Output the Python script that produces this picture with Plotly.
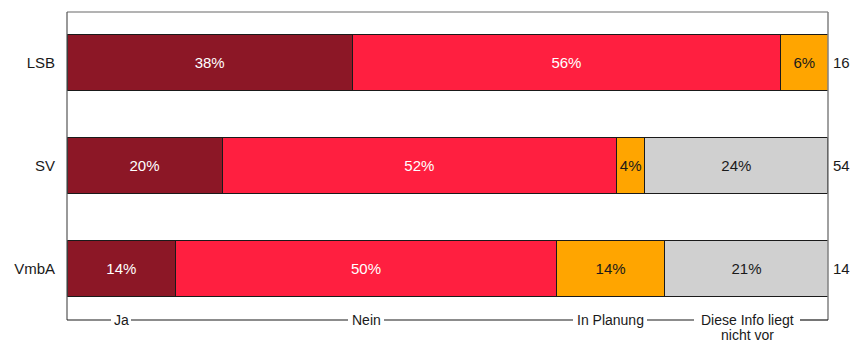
import plotly.graph_objects as go

categories = ["LSB", "SV", "VmbA"]
n_labels = ["16", "54", "14"]
series_names = ["Ja", "Nein", "In Planung", "Diese Info liegt nicht vor"]
ja = [37.5, 20.37, 14.29]
nein = [56.25, 51.85, 50.0]
planung = [6.25, 3.70, 14.29]
keine_info = [0.0, 24.07, 21.43]

colors = ["#8C1726", "#FF1F40", "#FFA500", "#D0D0D0"]
text_colors = ["white", "white", "#1a1a1a", "#1a1a1a"]
FONT = "Liberation Sans"
FS = 15
LFS = 14

L, R = 67, 828  # plot area pixel edges
def px2paper(p):
    return (p - L) / (R - L)

fig = go.Figure()
for name, vals, col, tcol in zip(series_names, [ja, nein, planung, keine_info], colors, text_colors):
    fig.add_trace(go.Bar(
        y=categories, x=vals, name=name, orientation="h",
        marker=dict(color=col, line=dict(color="#1a1a1a", width=1)),
        text=[f"{v:.0f}%" if v > 0 else "" for v in vals],
        textposition="inside", insidetextanchor="middle",
        textfont=dict(color=tcol, size=FS, family=FONT),
        hoverinfo="skip",
    ))

# n labels to the right of bars
for cat, nl in zip(categories, n_labels):
    fig.add_annotation(x=1, xref="paper", y=cat, yref="y", text=nl,
                       showarrow=False, xanchor="left", xshift=3,
                       font=dict(size=FS, color="#1a1a1a", family=FONT))

# frame
fig.add_shape(type="line", xref="paper", yref="paper", x0=0, x1=1, y0=0.997, y1=0.997,
              line=dict(color="#9a9a9a", width=1.5))
fig.add_shape(type="line", xref="paper", yref="paper", x0=0, x1=0, y0=0, y1=0.997,
              line=dict(color="#555555", width=1.2))
fig.add_shape(type="line", xref="paper", yref="paper", x0=1, x1=1, y0=0, y1=0.997,
              line=dict(color="#808080", width=1.5))

# legend labels along the bottom line, line drawn in segments between labels
legend_pos = [121, 366, 610, 747]
legend_gaps = [(111, 131), (348, 384), (573, 647), (694, 800)]
legend_text = ["Ja", "Nein", "In Planung", "Diese Info liegt"]
edges = [L] + [g for gap in legend_gaps for g in gap] + [R]
for a, b in zip(edges[0::2], edges[1::2]):
    fig.add_shape(type="line", xref="paper", yref="paper", x0=px2paper(a), x1=px2paper(b),
                  y0=0, y1=0, line=dict(color="#1a1a1a", width=1.2))
for px, t in zip(legend_pos, legend_text):
    fig.add_annotation(x=px2paper(px), xref="paper", y=0, yref="paper", text=t,
                       showarrow=False, xanchor="center", yanchor="middle", borderpad=0,
                       font=dict(size=LFS, color="#1a1a1a", family=FONT))
fig.add_annotation(x=px2paper(747), xref="paper", y=0, yref="paper", text="nicht vor",
                   showarrow=False, xanchor="center", yanchor="bottom", yshift=-24, borderpad=0,
                   font=dict(size=LFS, color="#1a1a1a", family=FONT))

fig.update_layout(
    barmode="stack", bargap=0.45,
    width=852, height=344,
    margin=dict(l=L, r=852 - R, t=11, b=24),
    plot_bgcolor="white", paper_bgcolor="white",
    showlegend=False,
    font=dict(family=FONT, size=FS, color="#1a1a1a"),
    xaxis=dict(range=[0, 100], showgrid=False, zeroline=False, showticklabels=False,
               showline=False, fixedrange=True),
    yaxis=dict(categoryorder="array", categoryarray=categories, autorange="reversed",
               showgrid=False, zeroline=False, showline=False, ticks="",
               ticklabelstandoff=11, tickfont=dict(size=FS, family=FONT, color="#1a1a1a")),
)

fig.write_html("out.html")
